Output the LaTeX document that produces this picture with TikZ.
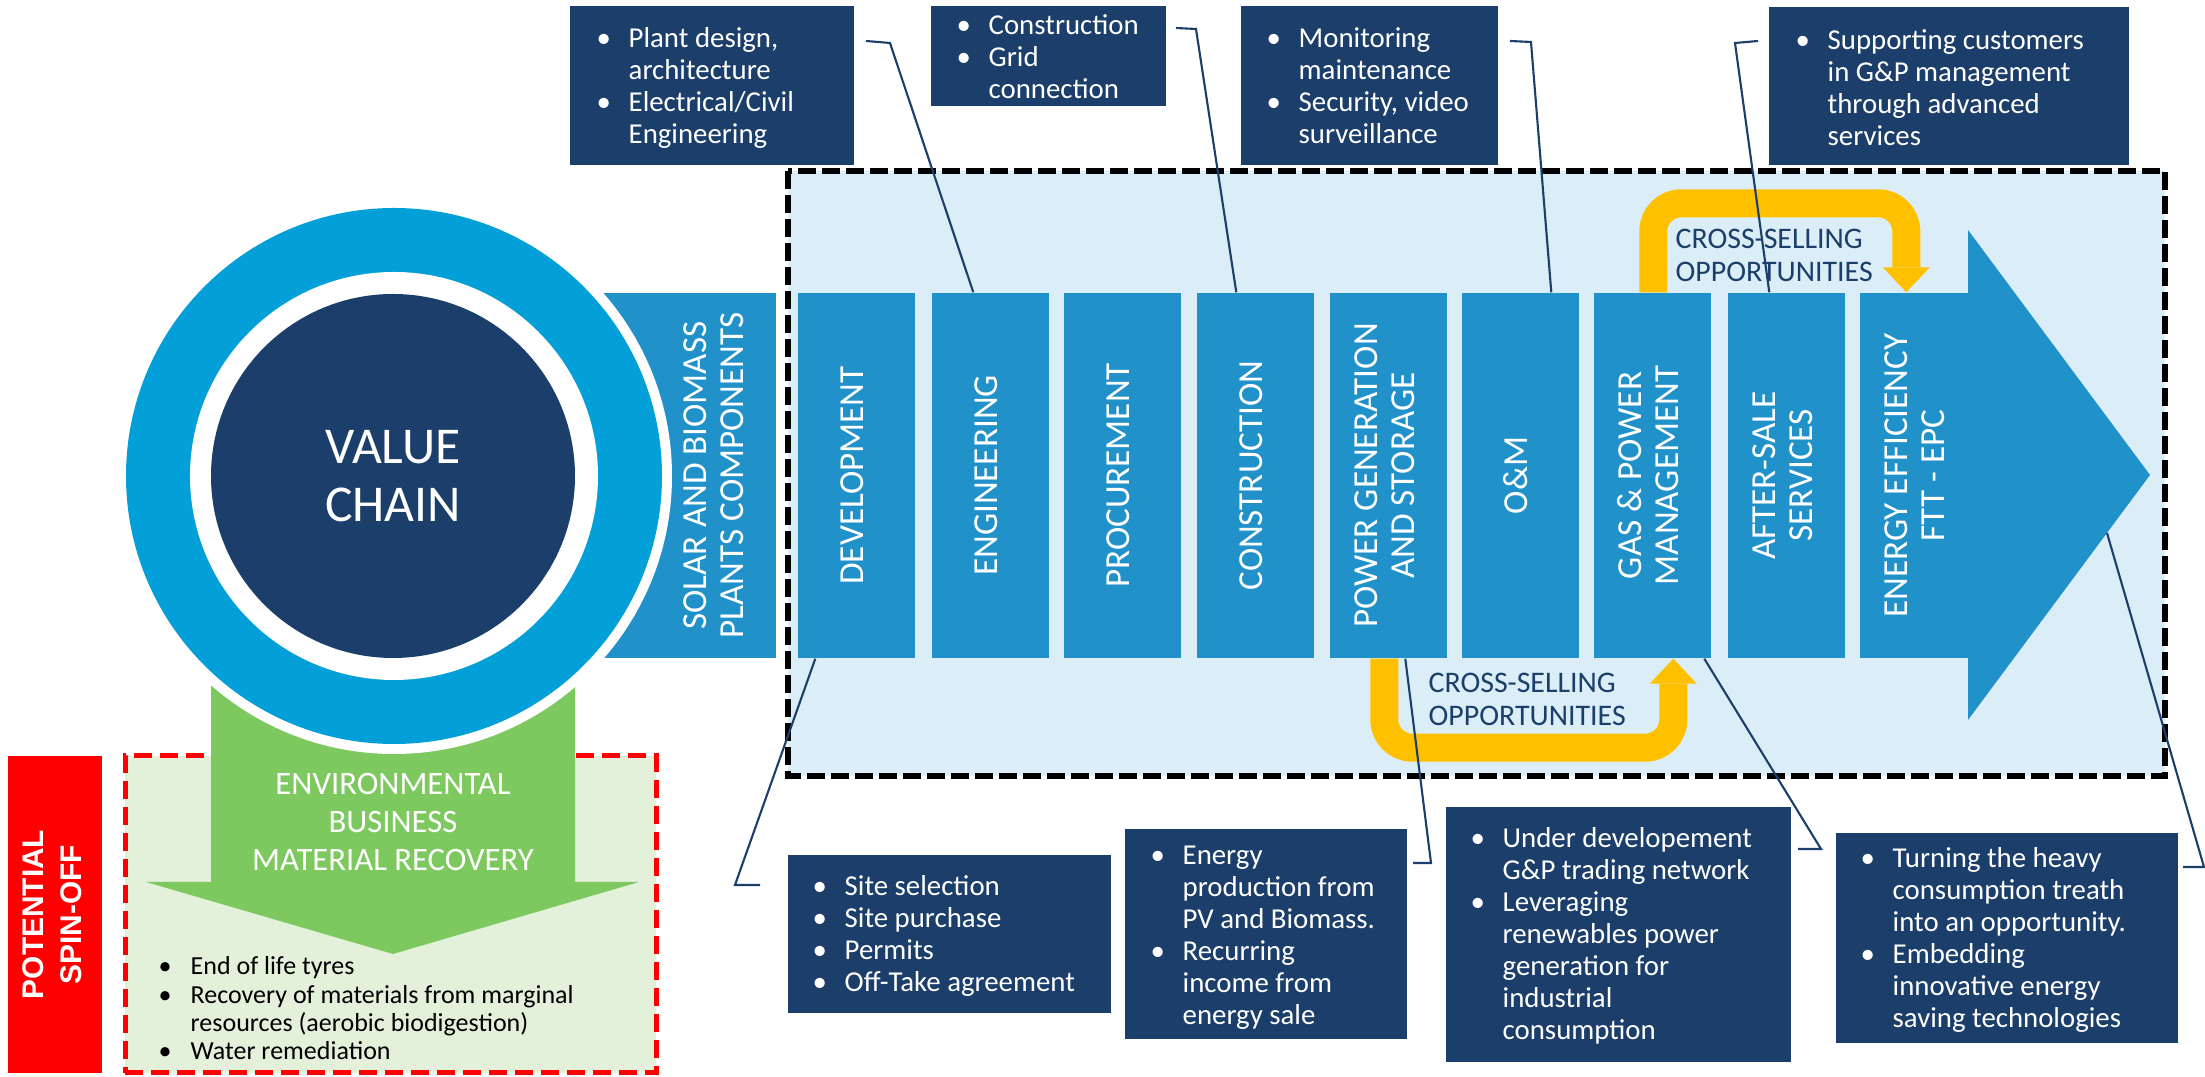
\documentclass[tikz,border=0pt]{standalone}
\usepackage{fontspec}
\setmainfont{Carlito}
\newfontfamily\spinfont{Liberation Sans}
\usepackage{graphicx}
\usetikzlibrary{arrows.meta}

\definecolor{navy}{RGB}{27,62,106}
\definecolor{colblue}{RGB}{33,145,202}
\definecolor{ringblue}{RGB}{3,159,217}
\definecolor{paleblue}{RGB}{219,238,248}
\definecolor{xsellyellow}{RGB}{255,192,0}
\definecolor{envgreen}{RGB}{125,201,95}
\definecolor{palegreen}{RGB}{227,241,218}
\definecolor{spinred}{RGB}{255,0,0}

\newcommand{\infofont}{\fontsize{8.2}{9.1}\selectfont}
\newcommand{\stagefont}{\fontsize{10}{10.6}\selectfont}
\newcommand{\blist}[1]{\begin{tabular}[t]{@{}p{3.2mm}@{}l@{}}#1\end{tabular}}
\newcommand{\vtext}[1]{\rotatebox{90}{\begin{tabular}{@{}c@{}}#1\end{tabular}}}

\tikzset{
  infobox/.style={fill=navy, inner sep=0pt},
  infotext/.style={anchor=base west, inner sep=0pt, text=white, font=\infofont},
  stage/.style={fill=colblue, inner sep=0pt, text=white, font=\stagefont,
    minimum width=11.7mm, minimum height=36.5mm},
  leader/.style={draw=navy, line width=0.6pt},
  xsellarrow/.style={draw=xsellyellow, line width=2.8mm, rounded corners=2.8mm,
    -{Triangle[width=4.7mm, length=2.5mm, line width=0pt]}},
  xselltext/.style={anchor=north west, inner sep=0pt, align=left, text=navy,
    font=\fontsize{8.5}{9.4}\selectfont},
}

\begin{document}
\begin{tikzpicture}[x=0.1mm, y=-0.1mm]
\useasboundingbox (0,0) rectangle (2205,1077);

% value chain frame
\draw[fill=paleblue, line width=0.6mm, dash pattern=on 1.8mm off 0.6mm] (788,171) rectangle (2165,776);

% potential spin-off
\node[fill=spinred, inner sep=0pt, minimum width=9.4mm, minimum height=31.7mm, text=white,
  font=\spinfont\bfseries\fontsize{8.5}{10.9}\selectfont] (spinoff) at (55,914.5)
  {\vtext{POTENTIAL\\SPIN-OFF}};
\node[fill=palegreen, draw=spinred, line width=0.5mm, dash pattern=on 1.8mm off 0.8mm,
  minimum width=53.1mm, minimum height=31.7mm] (envbox) at (390.5,914.5) {};
\fill[envgreen] (211,600) -- (575,600) -- (575,882) -- (639,882) -- (393,954)
  -- (146,882) -- (211,882) -- cycle;
\node[align=center, text=white, font=\fontsize{9.3}{10.8}\selectfont] (env) at (393,822)
  {ENVIRONMENTAL\\BUSINESS\\MATERIAL RECOVERY};
\node[anchor=base west, inner sep=0pt, font=\fontsize{7.4}{8.05}\selectfont] (envlist) at (158,975)
  {\blist{\textbullet & End of life tyres\\
  \textbullet & Recovery of materials from marginal\\
   & resources (aerobic biodigestion)\\
  \textbullet & Water remediation}};

% stages
\fill[colblue] (560,293) rectangle (665,658);
\node[stage] (solar) at (717.5,475.5) {\vtext{SOLAR AND BIOMASS\\PLANTS COMPONENTS}};
\node[stage] (dev) at (856.5,475.5) {\vtext{DEVELOPMENT}};
\node[stage] (eng) at (990.5,475.5) {\vtext{ENGINEERING}};
\node[stage] (proc) at (1122.5,475.5) {\vtext{PROCUREMENT}};
\node[stage] (cons) at (1255.5,475.5) {\vtext{CONSTRUCTION}};
\node[stage] (pow) at (1388.5,475.5) {\vtext{POWER GENERATION\\AND STORAGE}};
\node[stage] (om) at (1520.5,475.5) {\vtext{O\&M}};
\node[stage] (gas) at (1652.5,475.5) {\vtext{GAS \& POWER\\MANAGEMENT}};
\node[stage] (after) at (1786.5,475.5) {\vtext{AFTER-SALE\\SERVICES}};
\fill[colblue] (1968,230) -- (2150,475) -- (1968,720) -- cycle;
\node[stage] (eff) at (1918.5,475.5) {\vtext{ENERGY EFFICIENCY\\FTT - EPC}};

% value chain circle
\fill[white] (394,476) circle (278);
\fill[ringblue] (394,476) circle (268);
\fill[white] (394,476) circle (204);
\node[circle, fill=navy, minimum size=36.4mm, inner sep=0pt, text=white, align=center,
  font=\fontsize{14.7}{16.5}\selectfont] (vc) at (393,476) {VALUE\\CHAIN};

% cross-selling
\draw[xsellarrow] ([xshift=6mm]gas.north west) |- ([xshift=4.7mm, yshift=8.9mm]eff.north west)
  -- ([xshift=4.7mm]eff.north west);
\draw[xsellarrow] ([xshift=5.5mm]pow.south west) |- ([xshift=8mm, yshift=-8.9mm]gas.south west)
  -- ([xshift=8mm]gas.south west);
\node[xselltext] (xsell1) at (1675,228) {CROSS-SELLING\\OPPORTUNITIES};
\node[xselltext] (xsell2) at (1428,672) {CROSS-SELLING\\OPPORTUNITIES};

% info boxes
\node[infobox, minimum width=28.4mm, minimum height=15.9mm] (plantbox) at (712,85.5) {};
\node[infotext] at (596,48) {\blist{\textbullet & Plant design,\\ & architecture\\
  \textbullet & Electrical/Civil\\ & Engineering}};
\node[infobox, minimum width=23.5mm, minimum height=10mm] (consbox) at (1048.5,56) {};
\node[infotext] at (956,35) {\blist{\textbullet & Construction\\
  \textbullet & Grid\\ & connection}};
\node[infobox, minimum width=25.7mm, minimum height=15.9mm] (monbox) at (1369.5,85.5) {};
\node[infotext] at (1266,48) {\blist{\textbullet & Monitoring\\ & maintenance\\
  \textbullet & Security, video\\ & surveillance}};
\node[infobox, minimum width=36mm, minimum height=15.8mm] (supbox) at (1949,86) {};
\node[infotext] at (1795,50) {\blist{\textbullet & Supporting customers\\
  & in G\&P management\\ & through advanced\\ & services}};

\node[infobox, minimum width=32.3mm, minimum height=15.8mm] (sitebox) at (949.5,934) {};
\node[infotext] at (812,896) {\blist{\textbullet & Site selection\\
  \textbullet & Site purchase\\ \textbullet & Permits\\ \textbullet & Off-Take agreement}};
\node[infobox, minimum width=28.2mm, minimum height=21mm] (prodbox) at (1266,934) {};
\node[infotext] at (1150,865) {\blist{\textbullet & Energy\\ & production from\\
  & PV and Biomass.\\ \textbullet & Recurring\\ & income from\\ & energy sale}};
\node[infobox, minimum width=34.5mm, minimum height=25.5mm] (gpbox) at (1618.5,934.5) {};
\node[infotext] at (1470,848) {\blist{\textbullet & Under developement\\
  & G\&P trading network\\ \textbullet & Leveraging\\ & renewables power\\
  & generation for\\ & industrial\\ & consumption}};
\node[infobox, minimum width=34.2mm, minimum height=21mm] (turnbox) at (2007,938) {};
\node[infotext] at (1860,868) {\blist{\textbullet & Turning the heavy\\
  & consumption treath\\ & into an opportunity.\\ \textbullet & Embedding\\
  & innovative energy\\ & saving technologies}};

% leaders
\draw[leader] (866,41) -- (890,43) -- ([xshift=4.2mm]eng.north west);
\draw[leader] (1176,28) -- (1196,29) -- ([xshift=4mm]cons.north west);
\draw[leader] (1510,41) -- (1531,42) -- ([xshift=9mm]om.north west);
\draw[leader] (1758,41) -- (1735,43) -- ([xshift=4.2mm]after.north west);
\draw[leader] ([xshift=1.8mm]dev.south west) -- (735,885) -- (760,885);
\draw[leader] ([xshift=7.6mm]pow.south west) -- (1431,863) -- (1413,863);
\draw[leader] ([xshift=11.1mm]gas.south west) -- (1821,849) -- (1798,849);
\draw[leader] (2107,533) -- (2204,867) -- (2183,867);
\end{tikzpicture}
\end{document}
